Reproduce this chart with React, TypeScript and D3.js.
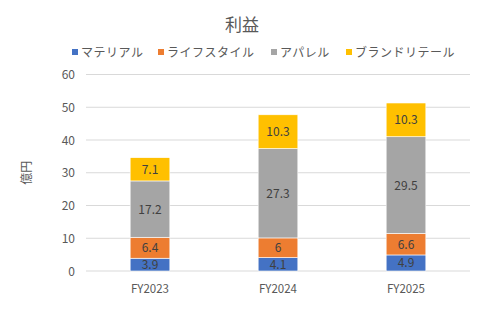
import React from "react";
import * as d3 from "d3";

const categories = ["FY2023", "FY2024", "FY2025"];
const seriesNames = ["マテリアル", "ライフスタイル", "アパレル", "ブランドリテール"];
const material = [3.9, 4.1, 4.9];
const lifestyle = [6.4, 6, 6.6];
const apparel = [17.2, 27.3, 29.5];
const brandRetail = [7.1, 10.3, 10.3];
const colors = ["#4472C4", "#ED7D31", "#A5A5A5", "#FFC000"];
const yTicks = [0, 10, 20, 30, 40, 50, 60];

const W = 485, H = 335;
const FONT = "'Noto Sans CJK JP', 'Noto Sans', sans-serif";

export default function App() {
  const values = [material, lifestyle, apparel, brandRetail];
  const rows = categories.map((c, i) => {
    const r: any = { cat: c };
    seriesNames.forEach((s, k) => (r[s] = values[k][i]));
    return r;
  });
  const stacked = d3.stack<any>().keys(seriesNames)(rows);
  const x = d3.scaleBand().domain(categories).range([86, 470]).paddingInner(0.69).paddingOuter(0.345);
  const y = d3.scaleLinear().domain([0, 60]).range([271, 74.5]);
  const legendX = [72, 158, 271, 346];

  return (
    <svg width={W} height={H} style={{ position: "absolute", left: 0, top: 0, background: "#fff" }} fontFamily={FONT}>
      <text x={242} y={31} textAnchor="middle" fontSize={17} fill="#595959">利益</text>
      {seriesNames.map((s, k) => (
        <g key={s}>
          <rect x={legendX[k]} y={49} width={6} height={6} fill={colors[k]} />
          <text x={legendX[k] + 9} y={56.5} fontSize={12} fill="#595959" letterSpacing={0.5}>{s}</text>
        </g>
      ))}
      {yTicks.map((t) => (
        <g key={t}>
          <line x1={86} x2={470} y1={y(t)} y2={y(t)} stroke="#D9D9D9" strokeWidth={1} />
          <text x={75} y={y(t) + 4.5} textAnchor="end" fontSize={12} fill="#595959">{t}</text>
        </g>
      ))}
      <text transform={`translate(31,${y(30)}) rotate(-90)`} textAnchor="middle" fontSize={12} fill="#595959">億円</text>
      {stacked.map((layer, k) => (
        <g key={layer.key}>
          {layer.map((d, i) => {
            const bx = x(categories[i])!;
            const top = y(d[1]);
            const bot = y(d[0]);
            return (
              <g key={i}>
                <rect x={bx} y={top} width={x.bandwidth()} height={bot - top} fill={colors[k]} stroke="#fff" strokeWidth={0.6} />
                <text x={bx + x.bandwidth() / 2} y={(top + bot) / 2 + 4.5} textAnchor="middle" fontSize={12} fill="#404040">
                  {values[k][i]}
                </text>
              </g>
            );
          })}
        </g>
      ))}
      {categories.map((c) => (
        <text key={c} x={x(c)! + x.bandwidth() / 2} y={293} textAnchor="middle" fontSize={11.5} fill="#595959">{c}</text>
      ))}
    </svg>
  );
}
